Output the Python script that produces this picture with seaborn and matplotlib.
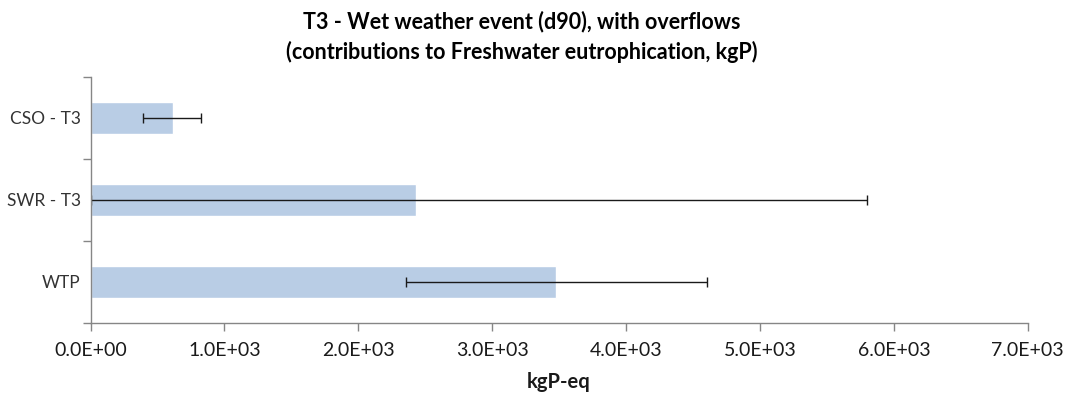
import matplotlib
matplotlib.use("Agg")
import matplotlib.pyplot as plt
from matplotlib.ticker import FuncFormatter, FixedLocator
import numpy as np
import pandas as pd
import seaborn as sns

# Contributions to freshwater eutrophication (kgP-eq) with uncertainty ranges
categories = ["CSO - T3", "SWR - T3", "WTP"]
values = [614, 2430, 3477]
lower = [392, 0, 2356]
upper = [828, 5800, 4604]

df = pd.DataFrame({"source": categories, "value": values})

sns.set_theme(style="white")
plt.rcParams["font.family"] = ["Lato", "DejaVu Sans"]

fig = plt.figure(figsize=(10.67, 3.98), dpi=100)
ax = fig.add_axes([90.5 / 1067, 1 - 323 / 398, (1027.7 - 90.5) / 1067, (323 - 77) / 398])

sns.barplot(data=df, x="value", y="source", order=categories, orient="h",
            color="#B9CDE5", saturation=1, width=0.4, ax=ax, errorbar=None)

y = np.arange(len(categories))
v = np.array(values, dtype=float)
xerr = np.vstack([v - np.array(lower), np.array(upper) - v])
ax.errorbar(v, y, xerr=xerr, fmt="none", ecolor="#1a1a1a", elinewidth=1.0,
            capsize=3.3, capthick=1.0)

ax.set_xlim(0, 7000)
ax.set_ylim(len(categories) - 0.5, -0.5)
ax.set_xticks(np.arange(0, 7001, 1000))
ax.xaxis.set_major_formatter(FuncFormatter(lambda x, p: f"{x:.1E}"))

# category separators as y ticks
ax.set_yticks(y)
ax.yaxis.set_minor_locator(FixedLocator(np.arange(-0.5, len(categories), 1.0)))
ax.tick_params(axis="y", which="major", length=0, pad=7, labelsize=12.5, labelcolor="#333333")
ax.tick_params(axis="y", which="minor", length=6, width=1, color="#868686", direction="out", left=True)
ax.tick_params(axis="x", which="major", length=6, width=1, color="#868686", direction="out",
               bottom=True, pad=8, labelsize=14, labelcolor="#1a1a1a")

for side in ["top", "right"]:
    ax.spines[side].set_visible(False)
for side in ["left", "bottom"]:
    ax.spines[side].set_color("#868686")
    ax.spines[side].set_linewidth(1)

ax.set_ylabel("")
ax.set_xlabel("kgP-eq", fontsize=14.5, fontweight="bold", color="#1a1a1a", labelpad=9)

fig.text(0.489, 0.908, "T3 - Wet weather event (d90), with overflows\n(contributions to Freshwater eutrophication, kgP)",
         ha="center", va="center", fontsize=15.5, fontweight="bold", color="#000000", linespacing=1.45)

fig.savefig("out.png", dpi=100)
